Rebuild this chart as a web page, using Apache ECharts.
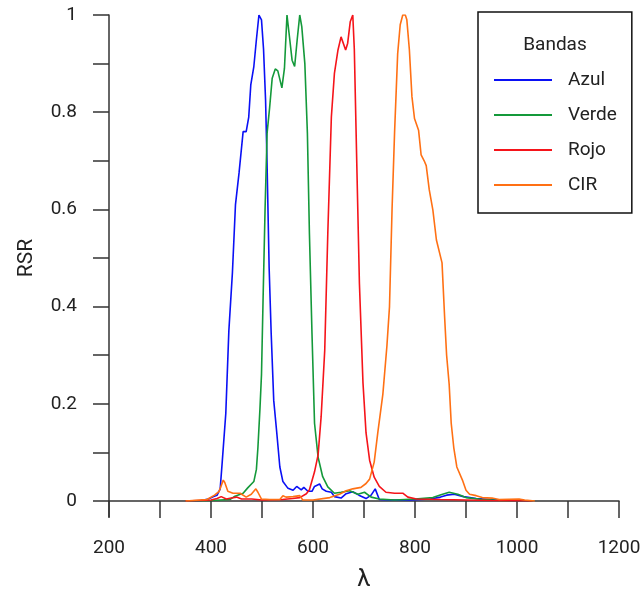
<!DOCTYPE html>
<html>
<head>
<meta charset="utf-8">
<script src="https://cdn.jsdelivr.net/npm/echarts@6/dist/echarts.min.js"></script>
<style>
html,body{margin:0;padding:0;background:#fff;}
#c{width:642px;height:594px;}
</style>
</head>
<body>
<div id="c"></div>
<script>
// ---- data ----
var seriesNames = ['Azul', 'Verde', 'Rojo', 'CIR'];
var seriesColors = ['#0a10f5', '#14993a', '#f5141a', '#ff7014'];
var xTicks = [200, 400, 600, 800, 1000, 1200];
var yTicks = [0, 0.2, 0.4, 0.6, 0.8, 1];

var azulNm  = [350,380,395,405,412,418,422,429,435,442,448,455,463,469,474,478,484,489,494,499,503,507,510,514,518,523,529,535,541,551,561,568,577,582,590,598,603,613,618,626,636,642,655,665,678,690,704,714,722,730,750,790,830,850,862,877,895,920,950,990,1030];
var azulRsr = [0,0.001,0.004,0.009,0.012,0.025,0.08,0.18,0.35,0.47,0.61,0.675,0.76,0.76,0.79,0.856,0.894,0.949,1.0,0.99,0.93,0.825,0.69,0.48,0.345,0.207,0.14,0.07,0.04,0.026,0.022,0.03,0.023,0.028,0.02,0.02,0.03,0.035,0.025,0.02,0.018,0.009,0.006,0.015,0.019,0.012,0.005,0.012,0.025,0.003,0.002,0.002,0.004,0.008,0.012,0.014,0.009,0.005,0.003,0.001,0];

var verdeNm  = [350,400,437,447,463,472,484,489,492,496,499,502,506,510,515,520,526,531,539,544,549,553,559,564,569,574,578,584,589,593,598,603,610,619,629,642,655,672,688,701,714,730,760,800,835,851,867,884,900,932,970,1030];
var verdeRsr = [0,0.001,0.003,0.01,0.016,0.027,0.04,0.065,0.11,0.19,0.26,0.41,0.6,0.757,0.81,0.87,0.889,0.885,0.85,0.89,1.0,0.963,0.907,0.894,0.949,1.0,0.976,0.9,0.757,0.55,0.345,0.16,0.09,0.05,0.029,0.016,0.018,0.021,0.014,0.018,0.008,0.004,0.002,0.004,0.007,0.013,0.018,0.014,0.007,0.003,0.001,0];

var rojoNm  = [350,400,412,420,430,440,450,460,480,500,540,560,574,587,593,603,610,616,623,629,636,642,649,655,658,664,668,673,678,681,686,691,698,704,711,720,730,743,760,776,786,803,850,900,950,1030];
var rojoRsr = [0,0.002,0.005,0.009,0.004,0.006,0.008,0.004,0.004,0.002,0.003,0.005,0.007,0.015,0.023,0.06,0.095,0.174,0.31,0.55,0.79,0.88,0.928,0.955,0.955,0.928,0.942,0.986,1.0,0.93,0.687,0.448,0.243,0.14,0.084,0.049,0.03,0.018,0.016,0.016,0.008,0.004,0.003,0.002,0.001,0];

var cirNm  = [350,392,407,416,424,427,433,443,457,469,479,488,492,499,515,535,541,547,561,574,580,600,633,652,665,678,694,704,711,720,727,737,745,750,755,760,766,771,776,781,784,789,794,799,807,812,818,822,828,835,842,853,858,862,867,871,876,882,893,900,907,920,932,951,965,1004,1015,1035];
var cirRsr = [0,0.003,0.012,0.02,0.043,0.038,0.02,0.016,0.016,0.008,0.014,0.025,0.018,0.004,0.003,0.003,0.011,0.008,0.009,0.011,0.002,0.002,0.007,0.014,0.021,0.025,0.028,0.036,0.045,0.08,0.14,0.22,0.32,0.4,0.6,0.76,0.92,0.98,1.0,1.0,0.99,0.928,0.832,0.787,0.763,0.712,0.7,0.69,0.64,0.599,0.537,0.49,0.38,0.3,0.24,0.16,0.11,0.07,0.043,0.022,0.014,0.011,0.007,0.006,0.003,0.004,0.002,0];

var FONT = "'Roboto', 'Liberation Sans', sans-serif";

function pairs(xs, ys) { return xs.map(function (x, i) { return [x, ys[i]]; }); }
var allX = [azulNm, verdeNm, rojoNm, cirNm];
var allY = [azulRsr, verdeRsr, rojoRsr, cirRsr];

var chart = echarts.init(document.getElementById('c'), null, {renderer: 'canvas'});
var option = {
  animation: false,
  backgroundColor: '#ffffff',
  grid: {left: 109, right: 23, top: 15, bottom: 93, containLabel: false, outerBoundsMode: 'none'},
  xAxis: {
    type: 'value', min: 200, max: 1200, interval: 100,
    name: 'λ', nameLocation: 'middle', nameGap: 67,
    nameTextStyle: {fontFamily: FONT, fontSize: 24, color: '#222'},
    axisLine: {show: true, onZero: true, lineStyle: {color: '#333', width: 1.5}},
    axisTick: {show: true, inside: false, length: 17, lineStyle: {color: '#333', width: 1.5}},
    axisLabel: {
      margin: 38, fontFamily: FONT, fontSize: 19, color: '#222',
      formatter: function (v) { return xTicks.indexOf(v) >= 0 ? String(v) : ''; }
    },
    splitLine: {show: false}
  },
  yAxis: {
    type: 'value', min: 0, max: 1, interval: 0.1,
    name: 'RSR', nameLocation: 'middle', nameGap: 72, nameRotate: 90,
    nameTextStyle: {fontFamily: FONT, fontSize: 21, color: '#222'},
    axisLine: {show: true, lineStyle: {color: '#333', width: 1.5}},
    axisTick: {show: true, length: 16, lineStyle: {color: '#333', width: 1.5}},
    axisLabel: {
      margin: 32, fontFamily: FONT, fontSize: 19, color: '#222',
      formatter: function (v) {
        var r = Math.round(v * 10) / 10;
        for (var i = 0; i < yTicks.length; i++) { if (Math.abs(yTicks[i] - r) < 1e-9) return String(r); }
        return '';
      }
    },
    splitLine: {show: false}
  },
  legend: {
    orient: 'vertical', left: 478, top: 12,
    padding: [58, 15, 18, 16],
    icon: 'rect',
    itemWidth: 58, itemHeight: 2, itemGap: 15,
    borderColor: '#111', borderWidth: 1.5, borderRadius: 0,
    backgroundColor: '#fff',
    textStyle: {fontFamily: FONT, fontSize: 19, color: '#222', lineHeight: 20, padding: [0, 0, 0, 11]},
    data: seriesNames
  },
  graphic: [],
  series: seriesNames.map(function (n, i) {
    return {
      name: n, type: 'line', symbol: 'none', smooth: false,
      data: pairs(allX[i], allY[i]),
      lineStyle: {color: seriesColors[i], width: 1.6},
      itemStyle: {color: seriesColors[i]},
      z: 2
    };
  })
};
chart.setOption(option);

// legend title and the y-axis line extension below zero
var p0 = chart.convertToPixel({gridIndex: 0}, [200, 0]);
chart.setOption({
  graphic: [
    {type: 'text', x: 555, y: 45, z: 10,
     style: {text: 'Bandas', fontFamily: FONT, fontSize: 19, fill: '#222', textAlign: 'center', textVerticalAlign: 'middle'}},
    {type: 'line', shape: {x1: p0[0], y1: p0[1], x2: p0[0], y2: p0[1] + 16},
     style: {stroke: '#333', lineWidth: 1.5}}
  ]
});
</script>
</body>
</html>
